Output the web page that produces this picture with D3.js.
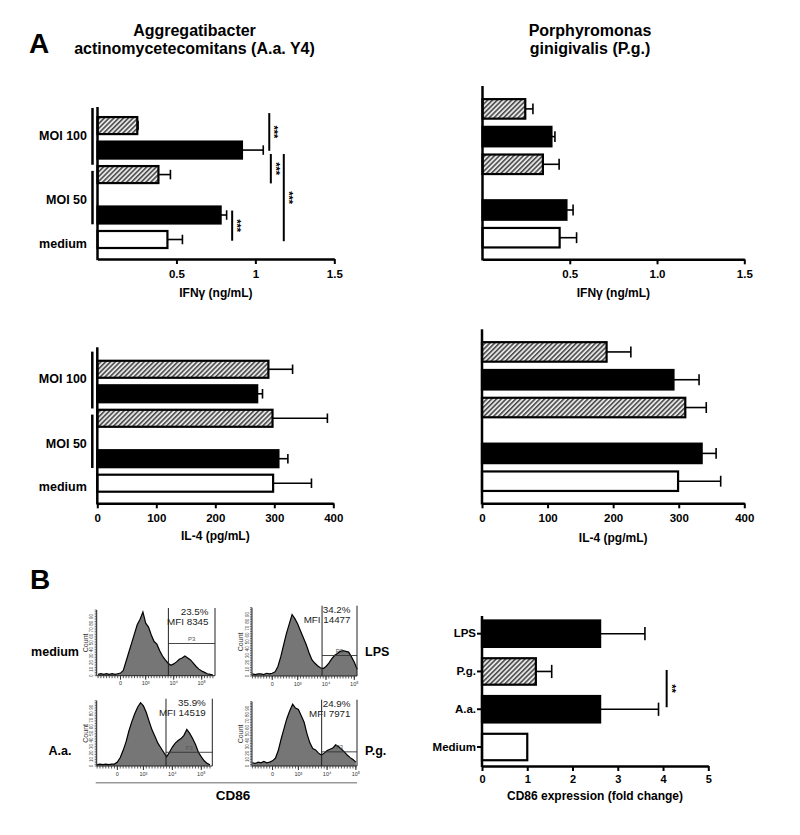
<!DOCTYPE html>
<html><head><meta charset="utf-8">
<script src="https://cdn.jsdelivr.net/npm/d3@7"></script>
<style>body{margin:0;background:#fff}svg{display:block}</style>
</head><body>
<svg id="c" width="800" height="835"></svg>
<script>
// ================= DATA =================
// Panel A bar categories (bottom to top)
const barCategories = ["medium", "MOI 50 (solid)", "MOI 50 (hatched)", "MOI 100 (solid)", "MOI 100 (hatched)"];
const barKinds = ["white", "solid", "hatch", "solid", "hatch"];
const groupLabels = ["medium", "MOI 50", "MOI 100"];

// IFN-gamma (ng/mL)
const ifnAaValues = [0.443, 0.780, 0.386, 0.915, 0.252];
const ifnAaSem    = [0.095, 0.038, 0.076, 0.135, 0.005];
const ifnPgValues = [0.442, 0.481, 0.346, 0.395, 0.245];
const ifnPgSem    = [0.097, 0.038, 0.093, 0.020, 0.044];

// IL-4 (pg/mL)
const il4AaValues = [298, 307, 297, 271, 290];
const il4AaSem    = [65, 16, 93, 9, 41];
const il4PgValues = [299, 335, 310, 292, 190];
const il4PgSem    = [65, 22, 32, 39, 37];

// Tick labels
const ifnTicks = [0.5, 1, 1.5];
const il4Ticks = [0, 100, 200, 300, 400];
const cdTicks = [0, 1, 2, 3, 4, 5];

// Panel B: CD86 fold change
const cdCategories = ["LPS", "P.g.", "A.a.", "Medium"];
const cdKinds = ["solid", "hatch", "solid", "white"];
const cdValues = [2.61, 1.19, 2.61, 1.00];
const cdSem    = [0.99, 0.35, 1.29, 0];

// Flow cytometry histograms (counts per 0.1-decade bin)
const histNames = ["medium", "LPS", "A.a.", "P.g."];
const histPercent = ["23.5%", "34.2%", "35.9%", "24.9%"];
const histMFI = ["MFI 8345", "MFI 14477", "MFI 14519", "MFI 7971"];
const histStart = [1.3, 1.4, 1.4, 1.4];
const mediumHist = [2,3,2,3,2,3,2,3,4,8,22,36,50,64,78,86,97,80,74,62,52,48,38,30,24,19,16,18,21,25,27,30,27,24,19,14,10,7,5,3,2,1];
const lpsHist = [3,2,3,3,2,4,3,4,6,14,28,45,62,76,90,84,76,66,56,46,34,24,19,15,12,11,14,19,25,30,33,36,37,36,35,28,20,10];
const aaHist = [2,3,2,3,2,3,3,6,13,24,37,54,68,80,90,97,92,82,68,55,45,35,28,21,14,21,29,35,39,42,47,56,50,42,33,21,14,8,4,2];
const pgHist = [5,4,6,5,7,5,6,8,12,24,42,58,74,86,96,90,88,78,68,50,36,27,25,20,17,20,24,26,28,33,30,26,22,17,13,10,6];
const histTickLabels = ["0", "10\u00B3", "10\u2074", "10\u2075"];
const histTickDecades = [2.1, 3, 4, 5];

// ================= LAYOUT =================
const FONT = '"Liberation Sans", Arial, Helvetica, sans-serif';
const svg = d3.select("#c").style("font-family", FONT);
const barSlots = [0, 1, 2.65, 3.65, 4.65];
const groupLabelSlots = [-0.16, 1.63, 4.25];
const bracketSlots = [[5.37, 3.05], [2.8, 0.62]];

const defs = svg.append("defs");
const pat = defs.append("pattern").attr("id", "hatch").attr("patternUnits", "userSpaceOnUse")
  .attr("width", 3.4).attr("height", 3.4).attr("patternTransform", "rotate(45)");
pat.append("rect").attr("width", 3.4).attr("height", 3.4).attr("fill", "#e6e6e6");
pat.append("line").attr("x1", 0.8).attr("x2", 0.8).attr("y1", 0).attr("y2", 3.4)
  .attr("stroke", "#1a1a1a").attr("stroke-width", 1.2);

function fillOf(k) { return k === "solid" ? "#000" : k === "hatch" ? "url(#hatch)" : "#fff"; }

function styleAxis(sel, size) {
  sel.select(".domain").attr("stroke", "#000").attr("stroke-width", 2.5);
  sel.selectAll(".tick line").attr("stroke", "#000").attr("stroke-width", 2);
  sel.selectAll(".tick text").attr("fill", "#000").style("font-family", FONT)
    .style("font-weight", "bold").style("font-size", size + "px");
}

function barPanel(cfg) {
  const x = d3.scaleLinear().domain([0, cfg.xMax]).range([cfg.x0, cfg.x1]);
  const y = d3.scaleLinear().domain([0, 1]).range([cfg.c0, cfg.c0 - cfg.step]);
  const g = svg.append("g");
  const rows = cfg.values.map((v, i) => ({ v, e: cfg.sem[i], k: barKinds[i], s: barSlots[i] }));
  const eg = g.append("g").attr("stroke", "#000").attr("stroke-width", 1.6);
  rows.forEach(r => {
    eg.append("line").attr("x1", x(r.v)).attr("x2", x(r.v + r.e)).attr("y1", y(r.s)).attr("y2", y(r.s));
    eg.append("line").attr("x1", x(r.v + r.e)).attr("x2", x(r.v + r.e))
      .attr("y1", y(r.s) - cfg.barH * 0.28).attr("y2", y(r.s) + cfg.barH * 0.28);
  });
  g.selectAll("rect.bar").data(rows).join("rect").attr("class", "bar")
    .attr("x", x(0)).attr("y", d => y(d.s) - cfg.barH / 2)
    .attr("width", d => x(d.v) - x(0)).attr("height", cfg.barH)
    .attr("fill", d => fillOf(d.k)).attr("stroke", "#000").attr("stroke-width", 2.2);
  const ax = d3.axisBottom(x).tickValues(cfg.ticks).tickFormat(cfg.fmt)
    .tickSize(5).tickPadding(6).tickSizeOuter(0);
  g.append("g").attr("transform", `translate(0,${cfg.bottom})`).call(ax).call(s => styleAxis(s, 11.5));
  g.append("line").attr("x1", x(0)).attr("x2", x(0)).attr("y1", cfg.top).attr("y2", cfg.bottom + 1.2)
    .attr("stroke", "#000").attr("stroke-width", 2.5);
  g.append("text").attr("x", (cfg.x0 + cfg.x1) / 2).attr("y", cfg.titleY).attr("text-anchor", "middle")
    .style("font-weight", "bold").style("font-size", "12px").text(cfg.title);
  if (cfg.labels) {
    g.selectAll("text.grp").data(groupLabels).join("text").attr("class", "grp")
      .attr("x", x(0) - 10.5).attr("y", (d, i) => y(groupLabelSlots[i])).attr("dy", "0.35em")
      .attr("text-anchor", "end").style("font-weight", "bold").style("font-size", "12.5px").text(d => d);
    g.selectAll("line.brk").data(bracketSlots).join("line").attr("class", "brk")
      .attr("x1", x(0) - 5).attr("x2", x(0) - 5).attr("y1", d => y(d[0])).attr("y2", d => y(d[1]))
      .attr("stroke", "#000").attr("stroke-width", 2.5);
  }
  if (cfg.sig) {
    cfg.sig.forEach(s => {
      g.append("line").attr("x1", x(s.x)).attr("x2", x(s.x)).attr("y1", y(s.a)).attr("y2", y(s.b))
        .attr("stroke", "#000").attr("stroke-width", 2);
      const my = (y(s.a) + y(s.b)) / 2;
      g.append("text").attr("transform", `translate(${x(s.x) + 1},${my}) rotate(90)`)
        .attr("text-anchor", "middle").style("font-weight", "bold").style("font-size", "11px").text(s.t);
    });
  }
}

// titles
svg.append("text").attr("x", 29).attr("y", 53).style("font-weight", "bold").style("font-size", "28px").text("A");
svg.append("text").attr("x", 30).attr("y", 589).style("font-weight", "bold").style("font-size", "28px").text("B");
[["Aggregatibacter", 194.5, 36], ["actinomycetecomitans (A.a. Y4)", 194.5, 54],
 ["Porphyromonas", 590, 35.5], ["ginigivalis (P.g.)", 590, 53.5]].forEach(t =>
  svg.append("text").attr("x", t[1]).attr("y", t[2]).attr("text-anchor", "middle")
    .style("font-weight", "bold").style("font-size", "16px").text(t[0]));

barPanel({ values: ifnAaValues, sem: ifnAaSem, xMax: 1.5, x0: 97.5, x1: 334.3, ticks: ifnTicks, fmt: d3.format(""),
  top: 107, bottom: 259, c0: 239.5, step: 24.5, barH: 17, labels: true, title: "IFN\u03B3 (ng/mL)", titleY: 297,
  sig: [{ x: 1.088, a: 5.16, b: 3.62, t: "***" }, { x: 1.098, a: 3.49, b: 2.29, t: "***" },
        { x: 1.18, a: 3.49, b: -0.07, t: "***" }, { x: 0.853, a: 1.18, b: -0.05, t: "***" }] });
barPanel({ values: ifnPgValues, sem: ifnPgSem, xMax: 1.5, x0: 482.5, x1: 744.3, ticks: ifnTicks, fmt: d3.format(".1f"),
  top: 86, bottom: 259.3, c0: 237.7, step: 27.7, barH: 19.5, labels: false, title: "IFN\u03B3 (ng/mL)", titleY: 297 });
barPanel({ values: il4AaValues, sem: il4AaSem, xMax: 400, x0: 97.3, x1: 333.3, ticks: il4Ticks, fmt: d3.format("d"),
  top: 347.3, bottom: 503.3, c0: 483.2, step: 24.5, barH: 17, labels: true, title: "IL-4 (pg/mL)", titleY: 540 });
barPanel({ values: il4PgValues, sem: il4PgSem, xMax: 400, x0: 482, x1: 744.3, ticks: il4Ticks, fmt: d3.format("d"),
  top: 329.3, bottom: 503.3, c0: 481.2, step: 27.8, barH: 19.5, labels: false, title: "IL-4 (pg/mL)", titleY: 542 });

// ===== Panel B bar chart =====
(function () {
  const x = d3.scaleLinear().domain([0, 5]).range([482, 708.3]);
  const y = d3.scaleBand().domain(cdCategories).range([614.8, 765.9]).paddingInner(0.3).paddingOuter(0.15);
  const g = svg.append("g");
  const rows = cdCategories.map((c, i) => ({ c, v: cdValues[i], e: cdSem[i], k: cdKinds[i] }));
  const bw = y.bandwidth();
  rows.filter(r => r.e > 0).forEach(r => {
    const cy = y(r.c) + bw / 2;
    g.append("line").attr("x1", x(r.v)).attr("x2", x(r.v + r.e)).attr("y1", cy).attr("y2", cy).attr("stroke", "#000").attr("stroke-width", 1.6);
    g.append("line").attr("x1", x(r.v + r.e)).attr("x2", x(r.v + r.e)).attr("y1", cy - bw * 0.25).attr("y2", cy + bw * 0.25)
      .attr("stroke", "#000").attr("stroke-width", 1.6);
  });
  g.selectAll("rect").data(rows).join("rect").attr("x", x(0)).attr("y", d => y(d.c))
    .attr("width", d => x(d.v) - x(0)).attr("height", bw)
    .attr("fill", d => fillOf(d.k)).attr("stroke", "#000").attr("stroke-width", 2.2);
  g.append("g").attr("transform", "translate(0,766)")
    .call(d3.axisBottom(x).tickValues(cdTicks).tickFormat(d3.format("d")).tickSize(5).tickPadding(4).tickSizeOuter(0))
    .call(s => styleAxis(s, 11));
  const yAxisG = g.append("g").attr("transform", "translate(482,0)")
    .call(d3.axisLeft(y).tickSize(5).tickPadding(1).tickSizeOuter(0))
    .call(s => styleAxis(s, 11.5));
  yAxisG.select(".domain").attr("d", "M0,616V767");
  g.append("text").attr("x", 595).attr("y", 800).attr("text-anchor", "middle")
    .style("font-weight", "bold").style("font-size", "12px").text("CD86 expression (fold change)");
  const sx = x(4.08), ya = y("P.g.") + bw / 2 - 1.5, yb = y("A.a.") + bw / 2 - 2;
  g.append("line").attr("x1", sx).attr("x2", sx).attr("y1", ya).attr("y2", yb).attr("stroke", "#000").attr("stroke-width", 2);
  g.append("text").attr("transform", `translate(${sx + 1},${(ya + yb) / 2}) rotate(90)`).attr("text-anchor", "middle")
    .style("font-weight", "bold").style("font-size", "11px").text("**");
})();

// ===== Flow cytometry histograms =====
const histData = [mediumHist, lpsHist, aaHist, pgHist];
const histFrames = [
  { left: 96.7, right: 215, top: 610, bottom: 675.7, d0: 1.25, d1: 5.475, gate: 3.81, gateH: 49, side: "left", ly: 651.7 },
  { left: 252, right: 357, top: 607.7, bottom: 676, d0: 1.385, d1: 5.095, gate: 3.86, gateH: 30, side: "right", ly: 651.5 },
  { left: 96.7, right: 212.3, top: 700.7, bottom: 766, d0: 1.386, d1: 5.38, gate: 3.78, gateH: 21, side: "left", ly: 750.7 },
  { left: 252, right: 357, top: 701.7, bottom: 766, d0: 1.386, d1: 5.04, gate: 3.81, gateH: 22, side: "right", ly: 750.5 }
];
histFrames.forEach((f, hi) => {
  const g = svg.append("g");
  const x = d3.scaleLinear().domain([f.d0, f.d1]).range([f.left, f.right]);
  const y = d3.scaleLinear().domain([0, 100]).range([f.bottom, f.top]);
  const pts = histData[hi].map((v, i) => ({ d: histStart[hi] + i * 0.1, v }));
  const area = d3.area().x(d => x(d.d)).y0(f.bottom).y1(d => y(d.v));
  g.append("path").datum(pts).attr("d", area).attr("fill", "#767676");
  g.append("path").datum(pts).attr("d", d3.line().x(d => x(d.d)).y(d => y(d.v)))
    .attr("fill", "none").attr("stroke", "#000").attr("stroke-width", 1.2);
  g.append("line").attr("x1", f.left).attr("x2", f.right).attr("y1", f.bottom).attr("y2", f.bottom).attr("stroke", "#222").attr("stroke-width", 1);
  g.append("line").attr("x1", f.left).attr("x2", f.left).attr("y1", f.top).attr("y2", f.bottom).attr("stroke", "#222").attr("stroke-width", 1);
  const minor = d3.range(Math.ceil(f.d0 * 10) / 10, f.d1, 0.1);
  g.selectAll("line.mx").data(minor).join("line").attr("x1", d => x(d)).attr("x2", d => x(d))
    .attr("y1", f.bottom).attr("y2", f.bottom + 2.5).attr("stroke", "#333").attr("stroke-width", 0.8);
  g.selectAll("line.Mx").data(histTickDecades.filter(d => d <= f.d1)).join("line").attr("x1", d => x(d)).attr("x2", d => x(d))
    .attr("y1", f.bottom).attr("y2", f.bottom + 4).attr("stroke", "#333").attr("stroke-width", 1);
  g.selectAll("text.tx").data(histTickDecades.filter(d => d <= f.d1 + 0.05)).join("text")
    .attr("x", d => x(d)).attr("y", f.bottom + 9.5).attr("text-anchor", "middle")
    .style("font-size", "5.5px").attr("fill", "#333").text((d, i) => histTickLabels[i]);
  const yminor = d3.range(0, 101, 2.5);
  g.selectAll("line.my").data(yminor).join("line").attr("x1", f.left - 2).attr("x2", f.left)
    .attr("y1", d => y(d)).attr("y2", d => y(d)).attr("stroke", "#333").attr("stroke-width", 0.7);
  g.selectAll("text.ty").data(d3.range(0, 100, 10)).join("text")
    .attr("transform", d => `translate(${f.left - 3.5},${y(d)}) rotate(-90)`).attr("text-anchor", "middle")
    .style("font-size", "4.5px").attr("fill", "#444").text(d => d);
  g.append("text").attr("transform", `translate(${f.left - 9},${(f.top + f.bottom) / 2}) rotate(-90)`)
    .attr("text-anchor", "middle").style("font-size", "7px").attr("fill", "#333").text("Count");
  const gx = x(f.gate);
  g.append("line").attr("x1", gx).attr("x2", gx).attr("y1", f.top - 2).attr("y2", f.bottom).attr("stroke", "#222").attr("stroke-width", 1);
  g.append("line").attr("x1", f.right).attr("x2", f.right).attr("y1", f.top - 2).attr("y2", f.bottom).attr("stroke", "#222").attr("stroke-width", 1);
  g.append("line").attr("x1", gx).attr("x2", f.right).attr("y1", y(f.gateH)).attr("y2", y(f.gateH)).attr("stroke", "#333").attr("stroke-width", 0.9);
  g.append("text").attr("x", (gx + f.right) / 2).attr("y", y(f.gateH) - 2.5).attr("text-anchor", "middle")
    .style("font-size", "6px").attr("fill", "#555").text("P3");
  g.append("text").attr("x", f.right - 6.5).attr("y", f.top + 5).attr("text-anchor", "end")
    .style("font-size", "9.8px").attr("fill", "#222").text(histPercent[hi]);
  g.append("text").attr("x", f.right - 6.5).attr("y", f.top + 15.3).attr("text-anchor", "end")
    .style("font-size", "9.8px").attr("fill", "#222").text(histMFI[hi]);
  g.append("text").attr("x", f.side === "left" ? (hi === 0 ? 79 : 71.5) : 365).attr("y", f.ly).attr("dy", "0.35em")
    .attr("text-anchor", f.side === "left" ? "end" : "start")
    .style("font-weight", "bold").style("font-size", "12.5px").text(histNames[hi]);
});
svg.append("line").attr("x1", 95.7).attr("x2", 357).attr("y1", 782.7).attr("y2", 782.7).attr("stroke", "#999").attr("stroke-width", 1.5);
svg.append("text").attr("x", 233).attr("y", 800).attr("text-anchor", "middle")
  .style("font-weight", "bold").style("font-size", "13.5px").text("CD86");
</script>
</body></html>
